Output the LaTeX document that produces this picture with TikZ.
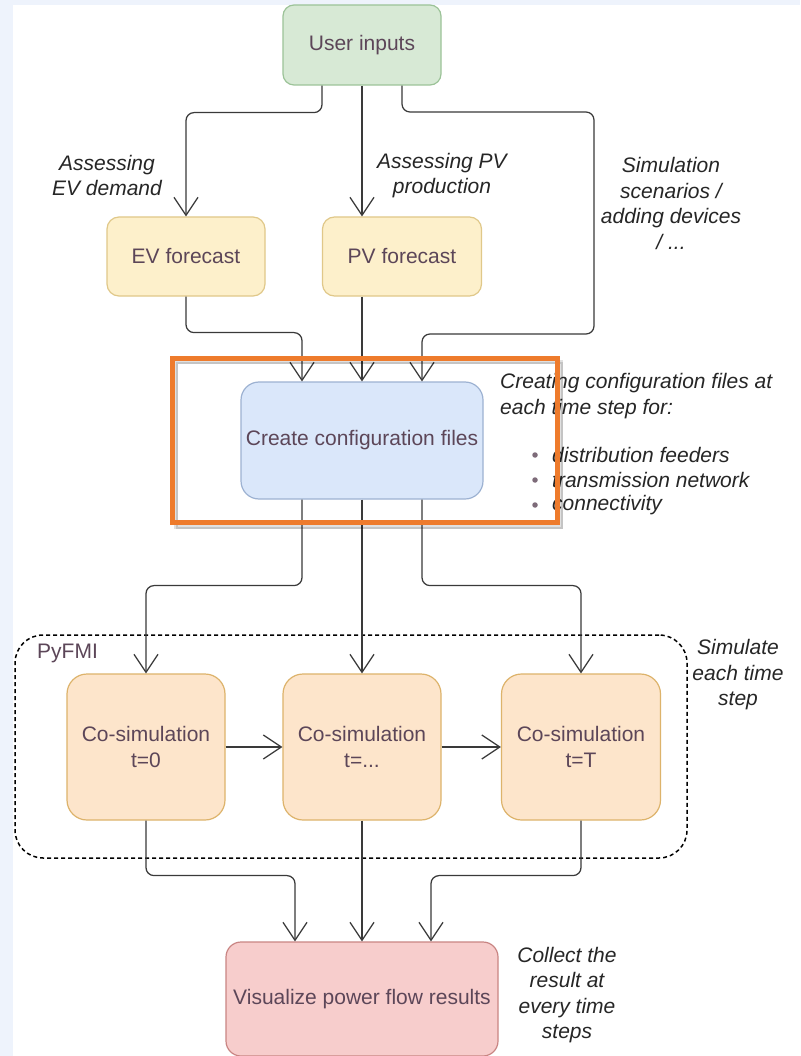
\documentclass[tikz,border=0pt]{standalone}
\usepackage{fontspec}
\setmainfont{Liberation Sans}
\usetikzlibrary{arrows.meta,calc}

\definecolor{bgblue}{HTML}{EEF3FC}
\definecolor{txt}{HTML}{5C4658}
\definecolor{note}{HTML}{262626}
\definecolor{wire}{HTML}{3A3A3A}
\definecolor{greenfill}{HTML}{D7E9D5}
\definecolor{greenline}{HTML}{9CC398}
\definecolor{yellowfill}{HTML}{FDF0CB}
\definecolor{yellowline}{HTML}{E0C889}
\definecolor{bluefill}{HTML}{DAE7FA}
\definecolor{blueline}{HTML}{9DB2D2}
\definecolor{orangefill}{HTML}{FDE5CB}
\definecolor{orangeline}{HTML}{DDB36B}
\definecolor{redfill}{HTML}{F7CDCC}
\definecolor{redline}{HTML}{C98583}
\definecolor{hilite}{HTML}{EE7B2C}

\begin{document}
\begin{tikzpicture}[x=1pt,y=-1pt,
  box/.style={draw, line width=1.2pt, align=center, text=txt, inner sep=2pt,
    font=\fontsize{21}{25.5}\selectfont},
  greenbox/.style={box, fill=greenfill, draw=greenline, rounded corners=11pt},
  yellowbox/.style={box, fill=yellowfill, draw=yellowline, rounded corners=12pt},
  bluebox/.style={box, fill=bluefill, draw=blueline, rounded corners=18pt},
  orangebox/.style={box, fill=orangefill, draw=orangeline, rounded corners=20pt},
  redbox/.style={box, fill=redfill, draw=redline, rounded corners=15pt},
  conn/.style={draw=wire, line width=1.25pt, rounded corners=8pt,
    -{Straight Barb[length=18pt,width=24pt]}},
  note/.style={text=note, inner sep=0pt, align=center,
    font=\fontsize{21}{25.5}\selectfont\itshape},
  bulletdot/.style={circle, fill=txt!80, inner sep=0pt, minimum size=5.5pt},
  group/.style={draw=black, line width=1.5pt, dash pattern=on 4pt off 3pt,
    rounded corners=28pt},
]
% canvas
\useasboundingbox (0,0) rectangle (800,1056);
\fill[white] (0,0) rectangle (800,1056);
\fill[bgblue] (0,0) rectangle (13,1056);
\fill[bgblue] (0,0) rectangle (800,5);

% dashed PyFMI group
\node[group, minimum width=672pt, minimum height=223pt] (pyfmi) at (351,746.5) {};
\node[text=txt, inner sep=0pt, anchor=west, font=\fontsize{21}{25.5}\selectfont]
  (pyfmilabel) at (37,653) {PyFMI};

% boxes
\node[greenbox, minimum width=158pt, minimum height=80pt] (ui) at (362,45) {User inputs};
\node[yellowbox, minimum width=158pt, minimum height=79pt] (ev) at (186,256.5) {EV forecast};
\node[yellowbox, minimum width=159pt, minimum height=79pt] (pv) at (402,256.5) {PV forecast};
\node[bluebox, minimum width=242pt, minimum height=117pt] (cfg) at (362,440.5) {Create configuration files};
\node[orangebox, minimum width=158pt, minimum height=146pt] (co0) at (146,747) {Co-simulation\\t=0};
\node[orangebox, minimum width=158pt, minimum height=146pt] (co1) at (362,747) {Co-simulation\\t=...};
\node[orangebox, minimum width=159pt, minimum height=146pt] (coT) at (581,747) {Co-simulation\\t=T};
\node[redbox, minimum width=272pt, minimum height=114pt] (vis) at (362,999) {Visualize power flow results};

% annotations
\node[note] (n1) at (107,175.5) {Assessing\\EV demand};
\node[note] (n2) at (442,175.5) {Assessing PV\\production};
\node[note] (n3) at (671,203.5) {Simulation\\scenarios /\\adding devices\\/ ...};
\node[note, align=left, anchor=west] (n4) at (500,396) {Creating configuration files at\\each time step for:};
\node[bulletdot] (b1) at (535,455) {};
\node[bulletdot] (b2) at (535,480) {};
\node[bulletdot] (b3) at (535,505) {};
\node[note, anchor=west] (t1) at (552,455) {distribution feeders};
\node[note, anchor=west] (t2) at (552,480) {transmission network};
\node[note, anchor=west] (t3) at (552,505) {connectivity};
\node[note] (n5) at (738,675) {Simulate\\each time\\step};
\node[note] (n6) at (567,995) {Collect the\\result at\\every time\\steps};

% connectors: inputs to forecasts
\coordinate (rtop) at (594,112);
\coordinate (rbot) at (594,334);
\draw[conn] ([xshift=-40pt]ui.south) -- ++(0,27) -| (ev.north);
\draw[conn] (ui.south) -- (ui.south |- pv.north);
\draw[conn] ([xshift=40pt]ui.south) |- (rtop) -- (rbot) -| ([xshift=60pt]cfg.north);

% forecasts to configuration
\draw[conn] (ev.south) -- ++(0,36) -| ([xshift=-60pt]cfg.north);
\draw[conn] (ui.south |- pv.south) -- (cfg.north);

% configuration to co-simulations
\draw[conn] ([xshift=-60pt]cfg.south) -- ++(0,86) -| (co0.north);
\draw[conn] (cfg.south) -- (co1.north);
\draw[conn] ([xshift=60pt]cfg.south) -- ++(0,86) -| (coT.north);

% time stepping
\draw[conn] (co0.east) -- (co1.west);
\draw[conn] (co1.east) -- (coT.west);

% co-simulations to results
\draw[conn] (co0.south) -- ++(0,55) -| ([xshift=-67pt]vis.north);
\draw[conn] (co1.south) -- (vis.north);
\draw[conn] (coT.south) -- ++(0,55) -| ([xshift=69pt]vis.north);

% highlight frame around the configuration step, with a soft shadow
\draw[black, line width=4pt, opacity=0.12] (176,362) rectangle (561,527);
\draw[black, line width=2pt, opacity=0.12] (177,363) rectangle (562,528);
\draw[hilite, line width=5pt] (172,358) rectangle (557,522);
\end{tikzpicture}
\end{document}
